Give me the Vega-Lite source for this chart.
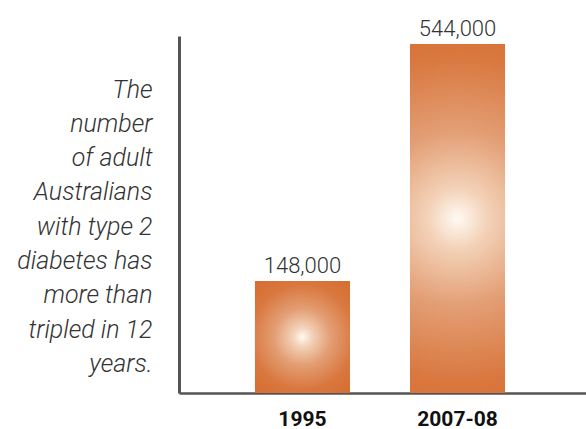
{
  "$schema": "https://vega.github.io/schema/vega-lite/v6.json",
  "autosize": {"type": "none"},
  "padding": {"left": 179, "top": 36, "right": 0, "bottom": 36},
  "width": 407,
  "height": 357,
  "background": "white",
  "config": {"view": {"stroke": null}},
  "data": {"values": [
    {"period": "1995", "adults": 148000},
    {"period": "2007-08", "adults": 544000}
  ]},
  "encoding": {
    "x": {
      "field": "period", "type": "nominal", "sort": null,
      "scale": {"paddingInner": 0.387, "paddingOuter": 0.506, "align": 0.484},
      "axis": {
        "title": null, "labelAngle": 0, "ticks": false, "tickSize": 0, "grid": false,
        "domainColor": "#555555", "domainWidth": 2.5,
        "labelFont": "Roboto", "labelFontWeight": "bold", "labelFontSize": 21,
        "labelColor": "#111111", "labelPadding": 15
      }
    },
    "y": {
      "field": "adults", "type": "quantitative",
      "scale": {"domain": [-39140, 557367], "nice": false, "zero": false},
      "axis": {
        "labels": false, "ticks": false, "grid": false,
        "domainColor": "#555555", "domainWidth": 3,
        "title": ["The", "number", "of adult", "Australians", "with type 2", "diabetes has", "more than", "tripled in 12", "years."],
        "titleAngle": 0, "titleAlign": "right", "titleBaseline": "alphabetic",
        "titleX": -27, "titleY": 61, "titleLineHeight": 34.3,
        "titleFont": "Roboto", "titleFontWeight": 300, "titleFontStyle": "italic",
        "titleFontSize": 25, "titleColor": "#333333"
      }
    }
  },
  "layer": [
    {
      "mark": {
        "type": "bar",
        "fill": {
          "gradient": "radial",
          "x1": 0.5, "y1": 0.5, "x2": 0.5, "y2": 0.5, "r1": 0, "r2": 0.72,
          "stops": [
            {"offset": 0, "color": "#fffaf4"},
            {"offset": 0.12, "color": "#f3d2b8"},
            {"offset": 0.35, "color": "#e39e74"},
            {"offset": 0.65, "color": "#d9773e"},
            {"offset": 1, "color": "#d46a2c"}
          ]
        }
      },
      "encoding": {"y2": {"datum": -39140}}
    },
    {
      "mark": {"type": "text", "baseline": "alphabetic", "dy": -8, "font": "Roboto", "fontWeight": 300, "fontSize": 22, "color": "#333333"},
      "encoding": {"text": {"field": "adults", "type": "quantitative", "format": ","}}
    }
  ]
}
